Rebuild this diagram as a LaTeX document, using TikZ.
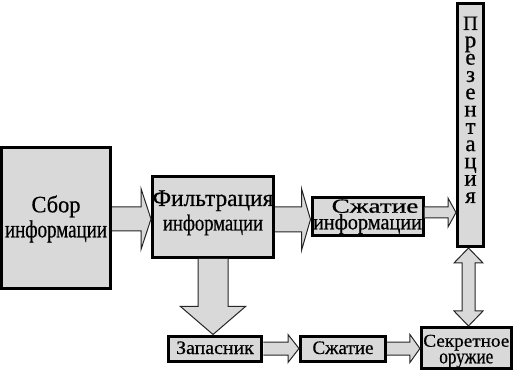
\documentclass[tikz,border=0pt]{standalone}
\usepackage{fontspec}
\usepackage{graphicx}
\setmainfont{Liberation Serif}[UprightFeatures={FakeBold=0.6}]
\usetikzlibrary{calc}
\definecolor{boxgray}{HTML}{D9D9D9}
\tikzset{
  box/.style={draw=black, line width=3pt, fill=boxgray, inner sep=0pt, rectangle},
  blockarrow/.style={draw=black!85, line width=1pt, fill=boxgray, line join=miter},
}
% #1 width, #2 font size, #3 text: set at size #2 and squeeze/stretch to width #1
\newcommand\fitw[3]{{\fontsize{#2}{#2}\selectfont\resizebox{#1}{\height}{#3}}}
% centred lines (rows separated by \cr) with fixed baseline distance #1; reference point = first baseline
\newcommand\stack[2]{\vtop{\baselineskip=#1\lineskiplimit=-1000pt\lineskip=0pt\halign{\hfil##\hfil\cr#2\crcr}}}
\newcommand\pl[1]{{\fontsize{23}{23}\selectfont #1}}
% horizontal block arrow: from #1 (east) to #2 (west); y centre #3, shaft half #4, head half #5, head length #6
\newcommand\harrow[6]{%
  \draw[blockarrow] ($(#1.east |- 0,#3)+(0,-#4)$) -- ($(#2.west |- 0,#3)+(-#6,-#4)$)
    -- ($(#2.west |- 0,#3)+(-#6,-#5)$) -- (#2.west |- 0,#3) -- ($(#2.west |- 0,#3)+(-#6,#5)$)
    -- ($(#2.west |- 0,#3)+(-#6,#4)$) -- ($(#1.east |- 0,#3)+(0,#4)$);}
% vertical block arrow: from #1 (south) down to #2 (north); x centre #3
\newcommand\varrow[6]{%
  \draw[blockarrow] ($(#1.south -| #3,0)+(-#4,0)$) -- ($(#2.north -| #3,0)+(-#4,-#6)$)
    -- ($(#2.north -| #3,0)+(-#5,-#6)$) -- (#2.north -| #3,0) -- ($(#2.north -| #3,0)+(#5,-#6)$)
    -- ($(#2.north -| #3,0)+(#4,-#6)$) -- ($(#1.south -| #3,0)+(#4,0)$);}
% double vertical block arrow between #1 (south) and #2 (north)
\newcommand\dvarrow[6]{%
  \draw[blockarrow] (#1.south -| #3,0) -- ($(#1.south -| #3,0)+(#5,#6)$) -- ($(#1.south -| #3,0)+(#4,#6)$)
    -- ($(#2.north -| #3,0)+(#4,-#6)$) -- ($(#2.north -| #3,0)+(#5,-#6)$) -- (#2.north -| #3,0)
    -- ($(#2.north -| #3,0)+(-#5,-#6)$) -- ($(#2.north -| #3,0)+(-#4,-#6)$)
    -- ($(#1.south -| #3,0)+(-#4,#6)$) -- ($(#1.south -| #3,0)+(-#5,#6)$) -- cycle;}
\begin{document}
\begin{tikzpicture}[x=1pt,y=-1pt]
\useasboundingbox (0,0) rectangle (514,371);
% boxes with their texts
\node[box, minimum width=109pt, minimum height=141pt, text height=17pt, text depth=28.4pt] (sbor) at (56,218)
  {\stack{25pt}{\fitw{49pt}{23.5}{Сбор}\cr\fitw{102pt}{24.5}{информации}}};
\node[box, minimum width=121pt, minimum height=81pt, text height=17pt, text depth=39pt] (filt) at (213,217)
  {\stack{24.5pt}{\fitw{120.6pt}{24}{Фильтрация}\cr\fitw{100pt}{23}{информации}}};
\node[box, minimum width=111pt, minimum height=38pt, text height=14pt, text depth=21.6pt] (szhi) at (367.5,216.5)
  {\stack{16.6pt}{\hspace*{15pt}\fitw{86.7pt}{20}{Сжатие}\cr\fitw{109pt}{22}{информации}}};
\node[box, minimum width=26pt, minimum height=243pt, text height=14pt, text depth=204pt] (pres) at (470.5,125)
  {\stack{17.3pt}{{\fontsize{20.5}{20.5}\selectfont П}\cr\pl{р}\cr\pl{е}\cr\pl{з}\cr\pl{е}\cr\pl{н}\cr\pl{т}\cr\pl{а}\cr\pl{ц}\cr\pl{и}\cr\pl{я}}};
\node[box, minimum width=93.6pt, minimum height=25pt, text height=14pt, text depth=3pt] (zap) at (215,348.5)
  {\fitw{77.7pt}{19}{Запасник}};
\node[box, minimum width=85pt, minimum height=25pt, text height=14pt, text depth=3pt] (szh) at (343,348.5)
  {\fitw{61pt}{19}{Сжатие}};
\node[box, minimum width=89.7pt, minimum height=41pt, text height=13pt, text depth=15.6pt] (sek) at (466.3,348)
  {\stack{16.6pt}{\fitw{86pt}{18}{Секретное}\cr\fitw{54pt}{21}{оружие}}};
% connectors
\harrow{sbor}{filt}{219}{12}{30.5}{10}
\harrow{filt}{szhi}{219.5}{12.5}{31}{9}
\harrow{szhi}{pres}{212.5}{5.5}{14.5}{8}
\varrow{filt}{zap}{213}{15}{32.5}{28}
\harrow{zap}{szh}{348.5}{6.5}{14}{11}
\harrow{szh}{sek}{348.5}{6.5}{14}{10}
\dvarrow{pres}{sek}{468.5}{6.5}{14.5}{15}
\end{tikzpicture}
\end{document}
